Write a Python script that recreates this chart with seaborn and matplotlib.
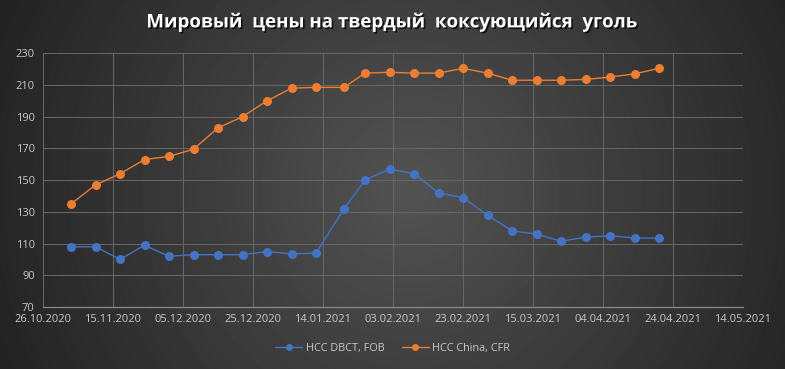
import numpy as np
import pandas as pd
import matplotlib
matplotlib.use("Agg")
import matplotlib.pyplot as plt
import matplotlib.dates as mdates
import matplotlib.patheffects as pe
from matplotlib.lines import Line2D
import seaborn as sns

dates = ["2020-11-03", "2020-11-10", "2020-11-17", "2020-11-24", "2020-12-01",
         "2020-12-08", "2020-12-15", "2020-12-22", "2020-12-29", "2021-01-05",
         "2021-01-12", "2021-01-20", "2021-01-26", "2021-02-02", "2021-02-09",
         "2021-02-16", "2021-02-23", "2021-03-02", "2021-03-09", "2021-03-16",
         "2021-03-23", "2021-03-30", "2021-04-06", "2021-04-13", "2021-04-20"]
dbct_fob = [108, 108, 100, 109, 102, 103, 103, 103, 105, 103.5,
            104, 132, 150, 157, 154, 142, 139, 128, 118, 116,
            111.5, 114, 115, 113.5, 113.5]
china_cfr = [135, 147, 154, 163, 165, 169.5, 183, 190, 200, 208,
             208.5, 208.5, 217.5, 218, 217.5, 217.5, 220.5, 217.5, 213, 213,
             213, 213.5, 215, 217, 220.5]
series_names = ["HCC DBCT, FOB", "HCC China, CFR"]
series_colors = ["#4472C4", "#ED7D31"]
title = "Мировый  цены на твердый  коксующийся  уголь"

df = pd.DataFrame({
    "date": pd.to_datetime(dates * 2),
    "price": dbct_fob + china_cfr,
    "series": [series_names[0]] * len(dates) + [series_names[1]] * len(dates),
})

sns.set_theme(style="dark")
plt.rcParams["font.family"] = ["Open Sans", "DejaVu Sans"]

fig = plt.figure(figsize=(7.85, 3.69), dpi=100)

# radial dark background
bg = fig.add_axes([0, 0, 1, 1], zorder=-10)
yy, xx = np.mgrid[0:369, 0:785]
r = np.sqrt((xx - 410) ** 2 + (yy - 190) ** 2) / 400
shade = np.clip(0.325 - 0.17 * r, 0.14, 1)
bg.imshow(shade, cmap="gray", vmin=0, vmax=1, aspect="auto", interpolation="bilinear")
bg.axis("off")

ax = fig.add_axes([0.0548, 0.168, 0.8917, 0.6876])
ax.set_facecolor("none")

sns.lineplot(data=df, x="date", y="price", hue="series", palette=series_colors,
             marker="o", markersize=6.5, markeredgewidth=0, linewidth=1.0,
             legend=False, ax=ax)

ax.set_ylim(70, 230)
ax.set_yticks(range(70, 231, 20))
start = pd.Timestamp("2020-10-26")
ticks = [start + pd.Timedelta(days=20 * i) for i in range(11)]
ax.set_xlim(ticks[0], ticks[-1])
ax.set_xticks(ticks)
ax.xaxis.set_major_formatter(mdates.DateFormatter("%d.%m.%Y"))
ax.set_xlabel("")
ax.set_ylabel("")

ax.grid(True, color="#666666", linewidth=0.75)
for s in ["top", "right", "left"]:
    ax.spines[s].set_visible(False)
ax.spines["bottom"].set_color("#8a8a8a")
ax.spines["bottom"].set_linewidth(0.9)
ax.tick_params(axis="both", colors="#c8c8c8", labelsize=8, length=0, pad=5)
ax.tick_params(axis="y", pad=6)

fig.text(0.5, 0.94, title, ha="center", va="center", color="white",
         fontsize=13.5, fontweight="bold",
         path_effects=[pe.withSimplePatchShadow(offset=(1.2, -1.2), shadow_rgbFace="black", alpha=0.7)])

handles = [Line2D([0], [0], color=c, marker="o", markersize=5, markeredgewidth=0, linewidth=1)
           for c in series_colors]
fig.legend(handles, series_names, loc="center", bbox_to_anchor=(0.5, 0.055), ncol=2,
           frameon=False, fontsize=7.8, labelcolor="#c8c8c8", handlelength=2.5,
           columnspacing=1.6, handletextpad=0.3)

fig.savefig("out.png", dpi=100)
